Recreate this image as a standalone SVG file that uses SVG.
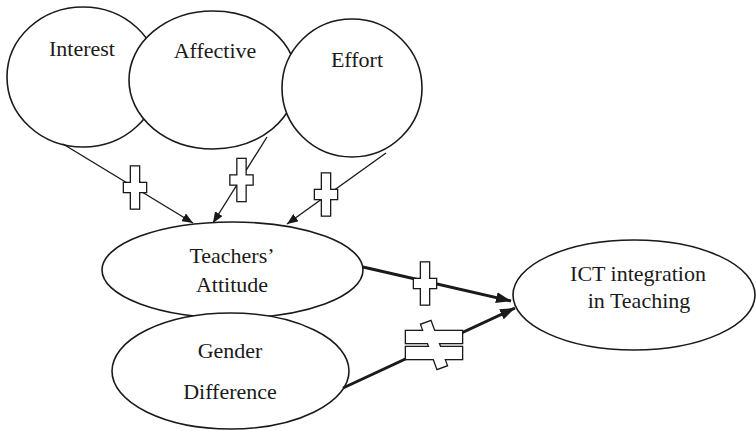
<svg xmlns="http://www.w3.org/2000/svg" xmlns:xlink="http://www.w3.org/1999/xlink" width="756" height="431" viewBox="0 0 756 431">
<style>
  .node ellipse { fill:#fff; stroke:#1a1a1a; stroke-width:1.6; }
  .node text { font-family:"Liberation Serif","Times New Roman",serif; font-size:22px; fill:#1a1a1a; text-anchor:middle; }
  .thin { stroke:#1a1a1a; stroke-width:1.4; fill:none; marker-end:url(#arrS); }
  .thick { stroke:#1a1a1a; stroke-width:3; fill:none; marker-end:url(#arrL); }
  .po { fill:#fff; stroke:#1a1a1a; stroke-width:2.6; }
  .pf { fill:#fff; stroke:none; }
</style>
<defs>
  <marker id="arrS" markerUnits="userSpaceOnUse" markerWidth="11" markerHeight="9" refX="11" refY="4.5" orient="auto">
    <path d="M0,0 L11,4.5 L0,9 z" fill="#1a1a1a"/>
  </marker>
  <marker id="arrL" markerUnits="userSpaceOnUse" markerWidth="15" markerHeight="11" refX="15" refY="5.5" orient="auto">
    <path d="M0,0 L15,5.5 L0,11 z" fill="#1a1a1a"/>
  </marker>
  <g id="plus">
    <rect x="-4" y="-21" width="8" height="42"/>
    <rect x="-11" y="-4.5" width="22" height="9"/>
  </g>
  <g id="neq">
    <rect x="-5" y="-23.5" width="10" height="47" transform="rotate(-20)"/>
    <rect x="-28" y="-14" width="56" height="12"/>
    <rect x="-28" y="2" width="56" height="12"/>
  </g>
</defs>

<g id="interest" class="node">
  <ellipse cx="83" cy="77" rx="76" ry="70"/>
  <text x="82" y="56">Interest</text>
</g>
<g id="affective" class="node">
  <ellipse cx="213" cy="80" rx="84" ry="69"/>
  <text x="215" y="58">Affective</text>
</g>
<g id="effort" class="node">
  <ellipse cx="352" cy="88" rx="70" ry="69"/>
  <text x="357" y="67">Effort</text>
</g>
<g id="teachers-attitude" class="node">
  <ellipse cx="232.5" cy="270" rx="130.5" ry="48"/>
  <text x="232" y="263">Teachers’</text>
  <text x="232" y="292">Attitude</text>
</g>
<g id="gender-difference" class="node">
  <ellipse cx="230.5" cy="371" rx="118.5" ry="58"/>
  <text x="230" y="358">Gender</text>
  <text x="230" y="399">Difference</text>
</g>
<g id="ict-integration" class="node">
  <ellipse cx="634" cy="295" rx="121" ry="55"/>
  <text x="638" y="281">ICT integration</text>
  <text x="639" y="308">in Teaching</text>
</g>

<g id="connectors">
  <line class="thin" x1="63" y1="144" x2="193" y2="223"/>
  <line class="thin" x1="267" y1="137" x2="213" y2="223"/>
  <line class="thin" x1="386" y1="153" x2="287" y2="224"/>
  <line class="thick" x1="363" y1="267" x2="511" y2="301"/>
  <line class="thick" x1="343" y1="388" x2="515" y2="308"/>
  <g id="signs">
    <use xlink:href="#plus" class="po" x="135" y="187.5"/>
    <use xlink:href="#plus" class="pf" x="135" y="187.5"/>
    <use xlink:href="#plus" class="po" x="241.5" y="180"/>
    <use xlink:href="#plus" class="pf" x="241.5" y="180"/>
    <use xlink:href="#plus" class="po" x="326" y="194.5"/>
    <use xlink:href="#plus" class="pf" x="326" y="194.5"/>
    <use xlink:href="#plus" class="po" x="425" y="283.5"/>
    <use xlink:href="#plus" class="pf" x="425" y="283.5"/>
    <use xlink:href="#neq" class="po" x="434" y="345"/>
    <use xlink:href="#neq" class="pf" x="434" y="345"/>
  </g>
</g>
</svg>
